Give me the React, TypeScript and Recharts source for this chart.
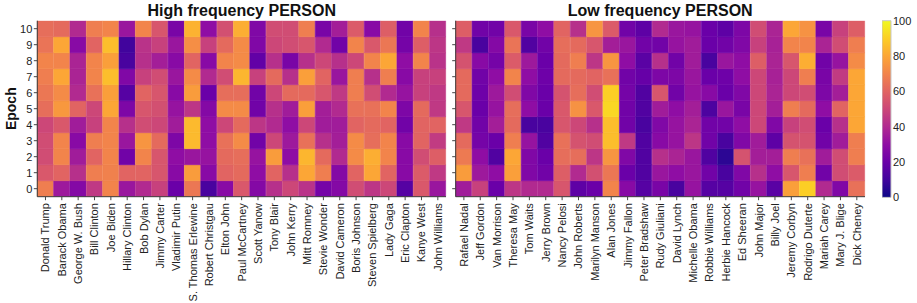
import { BarChart, Bar, XAxis, YAxis, Cell } from "recharts";

const epochs = [0, 1, 2, 3, 4, 5, 6, 7, 8, 9, 10];

const highNames = [
  "Donald Trump", "Barack Obama", "George W. Bush", "Bill Clinton", "Joe Biden",
  "Hillary Clinton", "Bob Dylan", "Jimmy Carter", "Vladimir Putin", "S. Thomas Erlewine",
  "Robert Christgau", "Elton John", "Paul McCartney", "Scott Yanow", "Tony Blair",
  "John Kerry", "Mitt Romney", "Stevie Wonder", "David Cameron", "Boris Johnson",
  "Steven Spielberg", "Lady Gaga", "Eric Clapton", "Kanye West", "John Williams",
];

const lowNames = [
  "Rafael Nadal", "Jeff Gordon", "Van Morrison", "Theresa May", "Tom Waits",
  "Jerry Brown", "Nancy Pelosi", "John Roberts", "Marilyn Manson", "Alan Jones",
  "Jimmy Fallon", "Peter Bradshaw", "Rudy Giuliani", "David Lynch", "Michelle Obama",
  "Robbie Williams", "Herbie Hancock", "Ed Sheeran", "John Major", "Billy Joel",
  "Jeremy Corbyn", "Rodrigo Duterte", "Mariah Carey", "Mary J. Blige", "Dick Cheney",
];

// one row per epoch (0 .. 10), one value per person
const highFreq = [
  [68, 34, 27, 45, 70, 33, 40, 48, 20, 66, 12, 28, 56, 27, 42, 50, 43, 23, 27, 52, 44, 50, 15, 56, 33],
  [56, 60, 42, 68, 69, 60, 60, 55, 28, 77, 28, 60, 62, 30, 60, 42, 80, 68, 27, 60, 80, 60, 28, 57, 45],
  [52, 70, 35, 60, 70, 22, 70, 55, 30, 33, 32, 62, 63, 32, 77, 30, 84, 62, 40, 72, 82, 70, 28, 52, 58],
  [52, 70, 28, 68, 70, 33, 75, 62, 25, 85, 30, 64, 72, 22, 50, 34, 64, 42, 36, 72, 63, 70, 28, 60, 46],
  [50, 56, 35, 48, 70, 42, 52, 50, 35, 85, 30, 50, 62, 44, 40, 30, 50, 35, 35, 60, 62, 60, 22, 60, 60],
  [63, 76, 60, 50, 80, 25, 55, 53, 32, 44, 27, 72, 72, 22, 42, 35, 78, 36, 40, 64, 64, 70, 25, 62, 45],
  [66, 72, 40, 64, 78, 15, 60, 55, 28, 77, 20, 63, 63, 22, 50, 62, 62, 55, 45, 68, 52, 40, 32, 48, 45],
  [68, 80, 38, 70, 86, 26, 48, 52, 33, 72, 40, 52, 84, 48, 62, 42, 78, 60, 33, 68, 42, 68, 28, 48, 48],
  [70, 70, 38, 70, 78, 12, 42, 36, 28, 60, 28, 70, 72, 18, 42, 24, 42, 50, 42, 50, 70, 80, 30, 70, 43],
  [65, 80, 28, 60, 86, 10, 43, 48, 33, 73, 48, 62, 72, 26, 50, 52, 55, 40, 22, 70, 56, 66, 23, 58, 44],
  [63, 62, 40, 68, 70, 33, 70, 55, 24, 83, 30, 53, 82, 26, 52, 52, 68, 24, 36, 57, 28, 58, 22, 70, 42],
];

const lowFreq = [
  [35, 48, 20, 44, 40, 40, 55, 17, 20, 70, 28, 15, 24, 12, 32, 15, 15, 22, 32, 16, 78, 90, 40, 26, 64],
  [77, 34, 30, 78, 26, 22, 58, 40, 53, 66, 20, 14, 33, 30, 33, 22, 12, 26, 42, 30, 55, 68, 22, 52, 57],
  [67, 30, 14, 80, 26, 20, 63, 63, 44, 75, 26, 14, 42, 38, 33, 14, 6, 54, 36, 36, 68, 64, 35, 52, 68],
  [62, 23, 20, 68, 32, 14, 64, 54, 52, 86, 45, 14, 28, 32, 44, 22, 12, 26, 35, 17, 54, 54, 22, 35, 68],
  [45, 22, 36, 62, 12, 12, 55, 50, 42, 86, 22, 12, 26, 32, 38, 22, 22, 30, 50, 26, 48, 52, 20, 42, 80],
  [55, 20, 32, 63, 30, 20, 56, 74, 56, 92, 22, 14, 35, 30, 36, 13, 33, 24, 50, 36, 68, 62, 30, 60, 80],
  [62, 21, 34, 52, 26, 20, 54, 63, 52, 90, 23, 14, 55, 22, 32, 28, 20, 26, 50, 38, 50, 52, 25, 36, 80],
  [62, 22, 30, 70, 30, 21, 62, 62, 60, 64, 22, 19, 25, 25, 33, 20, 21, 30, 50, 37, 50, 68, 24, 46, 80],
  [54, 28, 23, 57, 34, 20, 62, 68, 44, 75, 30, 16, 42, 22, 35, 12, 33, 30, 58, 38, 55, 82, 22, 32, 72],
  [45, 12, 27, 65, 14, 22, 63, 62, 55, 36, 33, 22, 22, 32, 35, 20, 22, 26, 48, 37, 70, 70, 38, 52, 68],
  [58, 22, 22, 56, 24, 30, 60, 42, 75, 57, 22, 17, 40, 33, 32, 20, 17, 25, 52, 38, 80, 74, 24, 48, 58],
];

const colorbarTicks = [0, 20, 40, 60, 80, 100];

// plasma colormap anchors, 0..1 in steps of 0.1
const PLASMA = [
  "#0d0887", "#41049d", "#6a00a8", "#8f0da4", "#b12a90", "#cc4778",
  "#e16462", "#f2844b", "#fca636", "#fcce25", "#f0f921",
];

function hexToRgb(h: string) {
  return [1, 3, 5].map((i) => parseInt(h.slice(i, i + 2), 16));
}

function plasma(v: number) {
  const t = Math.max(0, Math.min(1, v / 100)) * 10;
  const i = Math.min(9, Math.floor(t));
  const f = t - i;
  const a = hexToRgb(PLASMA[i]);
  const b = hexToRgb(PLASMA[i + 1]);
  const c = a.map((x, k) => Math.round(x + (b[k] - x) * f));
  return `rgb(${c[0]},${c[1]},${c[2]})`;
}

function buildRows(names: string[], values: number[][]) {
  return names.map((name, i) => {
    const row: Record<string, string | number> = { name };
    epochs.forEach((e) => {
      row[`u${e}`] = 1;
      row[`v${e}`] = values[e][i];
    });
    return row;
  });
}

const FONT = "'Liberation Sans', Arial, sans-serif";
const FRAME = "#3a3a3a";
const TOP = 20.7;
const PLOT_BOTTOM = 196.7;

function NameTick({ x, y, payload }: any) {
  return (
    <g transform={`translate(${x},${y})`}>
      <text
        transform="rotate(-90)"
        x={-1.5}
        y={0}
        dy="0.36em"
        textAnchor="end"
        fontSize={11}
        fill="#222"
      >
        {payload.value}
      </text>
    </g>
  );
}

function EpochLabel({ viewBox }: any) {
  const cx = 11;
  const cy = viewBox.y + viewBox.height / 2;
  return (
    <text
      x={cx}
      y={cy}
      transform={`rotate(-90, ${cx}, ${cy})`}
      textAnchor="middle"
      dominantBaseline="central"
      fontSize={14}
      fontWeight="bold"
      fill="#111"
    >
      Epoch
    </text>
  );
}

function Panel({
  left,
  width,
  yWidth,
  names,
  values,
  showLabels,
}: {
  left: number;
  width: number;
  yWidth: number;
  names: string[];
  values: number[][];
  showLabels: boolean;
}) {
  const rows = buildRows(names, values);
  return (
    <div style={{ position: "absolute", left, top: 0 }}>
      <BarChart
        width={width}
        height={303}
        data={rows}
        margin={{ top: TOP, right: 1, bottom: 0, left: 0 }}
        barCategoryGap={0}
        barGap={0}
      >
        <XAxis
          dataKey="name"
          interval={0}
          height={303 - PLOT_BOTTOM}
          tick={<NameTick />}
          tickSize={3.5}
          tickMargin={1.5}
          tickLine={{ stroke: "#444" }}
          axisLine={{ stroke: FRAME }}
        />
        <XAxis
          xAxisId="top"
          orientation="top"
          dataKey="name"
          height={0}
          tick={false}
          tickLine={false}
          axisLine={{ stroke: FRAME }}
        />
        <YAxis
          type="number"
          domain={[0, 11]}
          ticks={epochs.map((e) => e + 0.5)}
          interval={0}
          tickFormatter={(v: number) => (showLabels ? String(epochs[Math.floor(v)]) : "")}
          width={yWidth}
          tickSize={3.5}
          tickMargin={1.5}
          tick={{ fontSize: 11, fill: "#222" }}
          tickLine={{ stroke: "#444" }}
          axisLine={{ stroke: FRAME }}
          allowDataOverflow
          label={showLabels ? { content: <EpochLabel /> } : undefined}
        />
        <YAxis
          yAxisId="right"
          orientation="right"
          type="number"
          domain={[0, 11]}
          width={0}
          tick={false}
          tickLine={false}
          axisLine={{ stroke: FRAME }}
        />
        {epochs.map((e) => (
          <Bar
            key={e}
            dataKey={`u${e}`}
            stackId="epoch"
            isAnimationActive={false}
          >
            {rows.map((r, i) => {
              const c = plasma(r[`v${e}`] as number);
              return <Cell key={i} fill={c} stroke={c} strokeWidth={0.6} />;
            })}
          </Bar>
        ))}
      </BarChart>
    </div>
  );
}

function Colorbar() {
  return (
    <div style={{ position: "absolute", left: 882, top: 0 }}>
      <BarChart
        width={35}
        height={303}
        data={[{ name: "scale", v: 100 }]}
        margin={{ top: TOP, right: 0, bottom: 303 - PLOT_BOTTOM - 0.7, left: 0 }}
        barCategoryGap={0}
      >
        <defs>
          <linearGradient id="plasmaGrad" x1="0" y1="1" x2="0" y2="0">
            {PLASMA.map((c, i) => (
              <stop key={i} offset={`${i * 10}%`} stopColor={c} />
            ))}
          </linearGradient>
        </defs>
        <XAxis dataKey="name" hide />
        <YAxis
          orientation="right"
          type="number"
          domain={[0, 100]}
          ticks={colorbarTicks}
          interval={0}
          width={26}
          tickSize={0}
          tickMargin={2}
          tickLine={false}
          axisLine={false}
          tick={{ fontSize: 11, fill: "#222", textAnchor: "start" }}
        />
        <Bar
          dataKey="v"
          fill="url(#plasmaGrad)"
          stroke="#c8c8c8"
          strokeWidth={1}
          isAnimationActive={false}
        />
      </BarChart>
    </div>
  );
}

const titleStyle: React.CSSProperties = {
  position: "absolute",
  top: 1.5,
  fontSize: 16,
  fontWeight: "bold",
  lineHeight: "18px",
  textAlign: "center",
  color: "#111",
  whiteSpace: "nowrap",
};

export default function App() {
  return (
    <div
      style={{
        position: "absolute",
        left: 0,
        top: 0,
        width: 917,
        height: 303,
        background: "#fff",
        fontFamily: FONT,
        overflow: "hidden",
      }}
    >
      <Panel left={0} width={447} yWidth={37.3} names={highNames} values={highFreq} showLabels />
      <Panel left={440} width={426} yWidth={15.7} names={lowNames} values={lowFreq} showLabels={false} />
      <Colorbar />
      <div style={{ ...titleStyle, left: 37.3, width: 409 }}>High frequency PERSON</div>
      <div style={{ ...titleStyle, left: 455.7, width: 409 }}>Low frequency PERSON</div>
    </div>
  );
}
